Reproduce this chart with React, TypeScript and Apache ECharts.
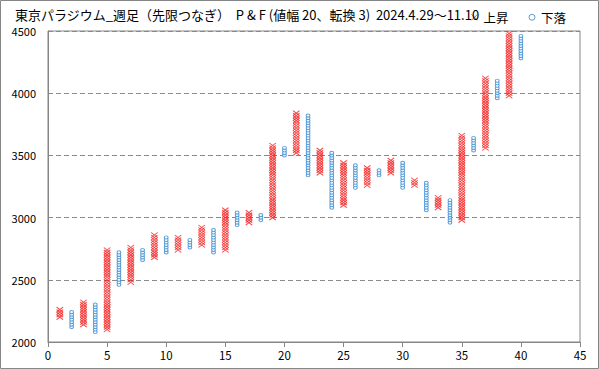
import React, { useEffect, useRef } from "react";
import * as echarts from "echarts";

const BOX = 20;
const titleText = "東京パラジウム_週足（先限つなぎ）  P & F (値幅 20、転換 3)  2024.4.29～11.10";
const upName = "上昇";
const downName = "下落";

const upCols = [1, 3, 5, 7, 9, 11, 13, 15, 17, 19, 21, 23, 25, 27, 29, 31, 33, 35, 37, 39];
const upLow = [2200, 2140, 2100, 2480, 2680, 2740, 2780, 2740, 2960, 3000, 3520, 3360, 3100, 3260, 3360, 3260, 3080, 2980, 3560, 3980];
const upHigh = [2260, 2320, 2740, 2760, 2860, 2840, 2920, 3060, 3040, 3580, 3840, 3540, 3440, 3400, 3460, 3300, 3160, 3660, 4120, 4480];

const downCols = [2, 4, 6, 8, 10, 12, 14, 16, 18, 20, 22, 24, 26, 28, 30, 32, 34, 36, 38, 40];
const downLow = [2120, 2080, 2460, 2660, 2720, 2760, 2720, 2940, 2980, 3500, 3340, 3080, 3240, 3340, 3240, 3060, 2960, 3540, 3960, 4280];
const downHigh = [2240, 2300, 2720, 2740, 2840, 2820, 2900, 3040, 3020, 3560, 3820, 3520, 3420, 3380, 3440, 3280, 3140, 3640, 4100, 4460];

const xTicks = { min: 0, max: 45, interval: 5 };
const yTicks = { min: 2000, max: 4500, interval: 500 };

function boxes(cols: number[], lows: number[], highs: number[]) {
  const pts: number[][] = [];
  cols.forEach((c, i) => {
    for (let v = lows[i]; v <= highs[i] + 0.001; v += BOX) pts.push([c, v]);
  });
  return pts;
}

const X_PATH = "path://M0,0L10,10M10,0L0,10";
const O_PATH = "path://M0,5A5,5 0 1,0 10,5A5,5 0 1,0 0,5Z";
const RED = "#f51c1c";
const BLUE = "#2f86d0";
const FONT = "'Noto Sans CJK JP', 'Noto Sans', sans-serif";

export default function App() {
  const ref = useRef<HTMLDivElement>(null);
  useEffect(() => {
    if (!ref.current) return;
    const chart = echarts.init(ref.current, null, { renderer: "svg" });
    chart.setOption({
      animation: false,
      backgroundColor: "#ffffff",
      textStyle: { fontFamily: FONT },
      title: {
        text: titleText,
        left: 15,
        top: 7,
        padding: 0,
        textStyle: { fontSize: 13, lineHeight: 14, fontWeight: "normal", color: "#000", fontFamily: FONT },
      },
      legend: {
        left: 464,
        top: 6,
        itemWidth: 8,
        itemHeight: 6,
        itemGap: 20,
        textStyle: { fontSize: 12.5, color: "#000", fontFamily: FONT },
        data: [
          { name: upName, icon: X_PATH, itemStyle: { color: "none", borderColor: RED, borderWidth: 1 } },
          { name: downName, icon: O_PATH, itemStyle: { color: "#fff", borderColor: BLUE, borderWidth: 1 } },
        ],
      },
      grid: {
        left: 48,
        right: 19,
        top: 31,
        bottom: 27,
        show: true,
        borderColor: "#868686",
        borderWidth: 1,
        backgroundColor: "#fff",
      },
      xAxis: {
        type: "value",
        min: xTicks.min,
        max: xTicks.max,
        interval: xTicks.interval,
        axisLine: { show: true, lineStyle: { color: "#868686" } },
        axisTick: { show: true, length: 5, lineStyle: { color: "#868686" } },
        splitLine: { show: false },
        axisLabel: { color: "#000", fontSize: 11.5, margin: 7, fontFamily: FONT },
      },
      yAxis: {
        type: "value",
        min: yTicks.min,
        max: yTicks.max,
        interval: yTicks.interval,
        axisLine: { show: true, lineStyle: { color: "#868686" } },
        axisTick: { show: false },
        splitLine: { show: true, lineStyle: { color: "#8a8a8a", type: [5, 3], width: 1 } },
        axisLabel: { color: "#000", fontSize: 11, lineHeight: 12, margin: 12, fontFamily: FONT, formatter: (v: number) => String(v) },
      },
      series: [
        {
          name: upName,
          type: "scatter",
          data: boxes(upCols, upLow, upHigh),
          symbol: X_PATH,
          symbolSize: [6.5, 5],
          itemStyle: { color: "none", borderColor: RED, borderWidth: 1 },
        },
        {
          name: downName,
          type: "scatter",
          data: boxes(downCols, downLow, downHigh),
          symbol: O_PATH,
          symbolSize: [3.8, 3.2],
          itemStyle: { color: "#fff", borderColor: BLUE, borderWidth: 1 },
        },
      ],
      graphic: [
        {
          type: "rect",
          shape: { x: 0.5, y: 0.5, width: 598, height: 368 },
          style: { fill: "none", stroke: "#868686", lineWidth: 1 },
          silent: true,
        },
      ],
    });
    return () => chart.dispose();
  }, []);
  return (
    <div style={{ position: "fixed", left: 0, top: 0 }}>
      <div ref={ref} style={{ width: 599, height: 369 }} />
    </div>
  );
}
